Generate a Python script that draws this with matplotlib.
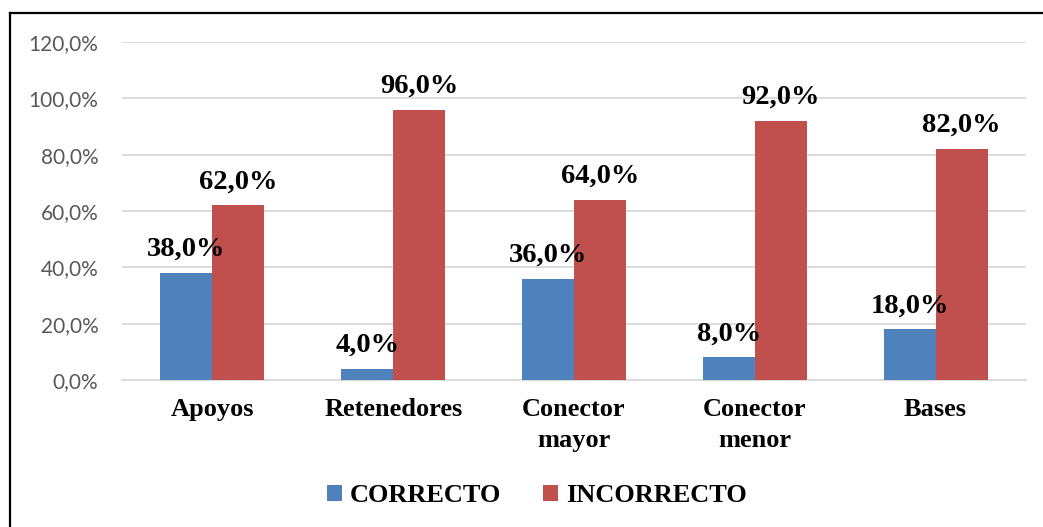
import matplotlib
matplotlib.use("Agg")
import matplotlib.pyplot as plt
from matplotlib.patches import Patch
from matplotlib.lines import Line2D
import numpy as np

categories = ["Apoyos", "Retenedores", "Conector\nmayor", "Conector\nmenor", "Bases"]
correcto = [38.0, 4.0, 36.0, 8.0, 18.0]
incorrecto = [62.0, 96.0, 64.0, 92.0, 82.0]
series_names = ["CORRECTO", "INCORRECTO"]
yticks = [0, 20, 40, 60, 80, 100, 120]

blue = "#4F81BD"
red = "#C0504D"
grid_c = "#D9D9D9"
serif = ["Liberation Serif", "DejaVu Serif"]

fig = plt.figure(figsize=(10.43, 5.27), dpi=100)
ax = fig.add_axes([122 / 1043, 1 - 380 / 527, (1026 - 122) / 1043, (380 - 42) / 527])

x = np.arange(len(categories))
w = 0.288
b1 = ax.bar(x - w / 2, correcto, w, color=blue, zorder=3)
b2 = ax.bar(x + w / 2, incorrecto, w, color=red, zorder=3)

def fmt(v):
    return f"{v:.1f}".replace(".", ",") + "%"

for bars, vals in ((b1, correcto), (b2, incorrecto)):
    for rect, v in zip(bars, vals):
        ax.annotate(fmt(v), (rect.get_x() + rect.get_width() / 2, v),
                    xytext=(0, 8), textcoords="offset points",
                    ha="center", va="bottom", fontsize=20.5, fontweight="bold",
                    family=serif, color="black", zorder=4)

ax.set_xlim(-0.5, len(categories) - 0.5)
ax.set_ylim(0, 120)
ax.set_yticks(yticks)
ax.set_yticklabels([fmt(t) for t in yticks], fontsize=15, color="#595959", family=["Lato", "DejaVu Sans"])
ax.set_xticks(x)
ax.set_xticklabels(categories, fontsize=19, fontweight="bold", family=serif, color="black",
                   linespacing=1.45)
ax.tick_params(axis="both", length=0)
ax.tick_params(axis="y", pad=17)
ax.tick_params(axis="x", pad=13)
ax.grid(axis="y", color=grid_c, linewidth=1.3, zorder=0)
for s in ("left", "right", "top"):
    ax.spines[s].set_visible(False)
ax.spines["bottom"].set_color(grid_c)
ax.spines["bottom"].set_linewidth(1.3)

handles = [Patch(facecolor=blue), Patch(facecolor=red)]
fig.legend(handles, series_names, loc="center", bbox_to_anchor=(537 / 1043, 1 - 496 / 527),
           ncol=2, frameon=False, prop={"family": serif, "weight": "bold", "size": 19},
           handlelength=0.55, handleheight=0.55, handletextpad=0.3, columnspacing=1.6)

# outer frame: left and top edges
fig.add_artist(Line2D([9.5 / 1043, 9.5 / 1043], [0, 1 - 12.5 / 527], color="black", linewidth=1.6,
                      transform=fig.transFigure))
fig.add_artist(Line2D([9.5 / 1043, 1], [1 - 12.5 / 527, 1 - 12.5 / 527], color="black", linewidth=1.6,
                      transform=fig.transFigure))

fig.savefig("out.png", dpi=100)
